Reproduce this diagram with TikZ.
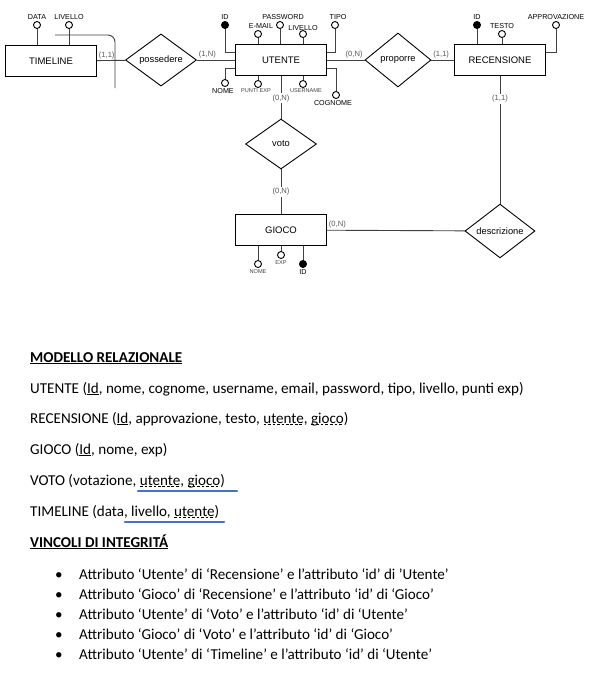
\documentclass[tikz,border=0pt]{standalone}
\usepackage{fontspec}
\setmainfont{Carlito}
\newfontfamily\erfont{Liberation Sans}
\usetikzlibrary{shapes.geometric}
\definecolor{wordblue}{HTML}{4472C4}
\newcommand\ulsolid[1]{\setbox0\hbox{#1}\rlap{\raisebox{-1.9pt}{\rule{\wd0}{0.75pt}}}\box0}
\newcommand\uldash[1]{\setbox0\hbox{#1}\rlap{\raisebox{-1.9pt}{\hbox to\wd0{\xleaders\hbox{\rule{2.6pt}{0.75pt}\hspace{1.6pt}}\hfil}}}\box0}
\begin{document}
\begin{tikzpicture}[x=1pt,y=-1pt,
    entity/.style={draw,line width=0.9pt,fill=white,minimum width=91pt,minimum height=31pt,
      inner sep=0pt,font=\erfont\fontsize{9.5}{10}\selectfont},
    relation/.style={draw,line width=0.9pt,fill=white,diamond,minimum width=71pt,minimum height=52pt,
      inner sep=0pt,font=\erfont\fontsize{9.3}{10}\selectfont},
    attr/.style={circle,draw,line width=0.9pt,fill=white,minimum size=7pt,inner sep=0pt},
    key/.style={attr,fill=black},
    lbl/.style={font=\erfont\fontsize{7.2}{7.5}\selectfont,inner sep=0.5pt,label distance=0.5pt},
    tiny/.style={font=\erfont\fontsize{5.6}{6}\selectfont,inner sep=0.5pt,text=black!75,label distance=0pt},
    card/.style={font=\erfont\fontsize{7.6}{8}\selectfont,text=black!65,inner sep=1.5pt},
    link/.style={draw=black!75,line width=0.9pt},
    txt/.style={anchor=base west,inner sep=0pt,font=\fontsize{15.1}{17}\selectfont},
    blueline/.style={draw=wordblue,line width=2.4pt,line cap=round}]
  \fill[white] (0,0) rectangle (611,673);
  \useasboundingbox (0,0) rectangle (611,673);
  \node[entity] (timeline) at (51,61) {TIMELINE};
  \node[entity] (utente) at (281,60) {UTENTE};
  \node[entity] (recensione) at (500,60) {RECENSIONE};
  \node[entity] (gioco) at (281,230) {GIOCO};
  \node[relation] (possedere) at (161,60) {possedere};
  \node[relation,minimum width=66pt,minimum height=54pt] (proporre) at (398,60) {proporre};
  \node[relation,minimum height=50pt] (voto) at (281,144) {voto};
  \node[relation,minimum width=70pt,minimum height=49pt] (descrizione) at (500,231) {descrizione};
  \node[attr,label={[lbl]above:DATA}] (dataT) at (37,25) {};
  \node[attr,label={[lbl]above:LIVELLO}] (livelloT) at (69,25) {};
  \node[key,label={[lbl]above:ID}] (idU) at (225,25) {};
  \node[attr,label={[lbl,xshift=3pt]above:E-MAIL}] (emailU) at (258,34) {};
  \node[attr,label={[lbl,xshift=3pt]above:PASSWORD}] (passwordU) at (280,25) {};
  \node[attr,label={[lbl,label distance=-1.5pt]above:LIVELLO}] (livelloU) at (303,34) {};
  \node[attr,label={[lbl,xshift=3pt]above:TIPO}] (tipoU) at (335,25) {};
  \node[attr,label={[lbl,xshift=-2pt]below:NOME}] (nomeU) at (225,83) {};
  \node[attr,label={[tiny,xshift=-2pt]below:PUNTI EXP}] (puntiU) at (258,84) {};
  \node[attr,label={[tiny,xshift=3pt]below:USERNAME}] (usernameU) at (303,84) {};
  \node[attr,label={[lbl,xshift=-3pt]below:COGNOME}] (cognomeU) at (336,95) {};
  \node[key,label={[lbl]above:ID}] (idR) at (477,25) {};
  \node[attr,label={[lbl]above:TESTO}] (testoR) at (502,34) {};
  \node[attr,label={[lbl]above:APPROVAZIONE}] (approvR) at (556,25) {};
  \node[attr,label={[tiny,label distance=1pt]below:NOME}] (nomeG) at (258,264) {};
  \node[attr,label={[tiny,label distance=1pt]below:EXP}] (expG) at (281,255) {};
  \node[key,label={[lbl]below:ID}] (idG) at (303,264) {};
  \coordinate (bendA) at (55,35);
  \coordinate (bendB) at (115,88);
  \draw[link,rounded corners=7pt] (bendA) -| (bendB);
  \draw[link] (dataT) -- (dataT |- timeline.north);
  \draw[link] (livelloT) -- (livelloT |- timeline.north);
  \draw[link] (idU) |- ([yshift=8pt]utente.west);
  \draw[link] (nomeU) |- ([yshift=-8pt]utente.west);
  \draw[link] (tipoU) |- ([yshift=8pt]utente.east);
  \draw[link] (cognomeU) |- ([yshift=-8pt]utente.east);
  \draw[link] (emailU) -- (emailU |- utente.north);
  \draw[link] (passwordU) -- (passwordU |- utente.north);
  \draw[link] (livelloU) -- (livelloU |- utente.north);
  \draw[link] (puntiU) -- (puntiU |- utente.south);
  \draw[link] (usernameU) -- (usernameU |- utente.south);
  \draw[link] (idR) -- (idR |- recensione.north);
  \draw[link] (testoR) -- (testoR |- recensione.north);
  \draw[link] (approvR) |- ([yshift=8pt]recensione.east);
  \draw[link] (nomeG) -- (nomeG |- gioco.south);
  \draw[link] (expG) -- (expG |- gioco.south);
  \draw[link] (idG) -- (idG |- gioco.south);
  \draw[link] (timeline) -- node[card,pos=0,above right]{(1,1)} (possedere);
  \draw[link] (possedere) -- node[card,pos=0,above right]{(1,N)} (utente);
  \draw[link] (utente) -- node[card,pos=1,above left]{(0,N)} (proporre);
  \draw[link] (proporre) -- node[card,pos=0,above right]{(1,1)} (recensione);
  \draw[link] (recensione) -- node[card,fill=white,pos=0.18]{(1,1)} (descrizione);
  \draw[link] (utente) -- node[card,fill=white,pos=0.52]{(0,N)} (voto);
  \draw[link] (voto) -- node[card,fill=white]{(0,N)} (gioco);
  \draw[link] (gioco) -- node[card,pos=0,above right]{(0,N)} (descrizione);
  \node[txt] (modello) at (30,362) {\textbf{\ulsolid{MODELLO RELAZIONALE}}};
  \node[txt] (relUtente) at (30,393) {UTENTE (\ulsolid{Id}, nome, cognome, username, email, password, tipo, livello, punti exp)};
  \node[txt] (relRecensione) at (30,423) {RECENSIONE (\ulsolid{Id}, approvazione, testo, \uldash{utente}, \uldash{gioco})};
  \node[txt] (relGioco) at (30,454) {GIOCO (\ulsolid{Id}, nome, exp)};
  \node[txt] (relVoto) at (30,485) {VOTO (votazione, \uldash{utente}, \uldash{gioco})};
  \node[txt] (relTimeline) at (30,516) {TIMELINE (data, livello, \uldash{utente})};
  \node[txt] (vincoli) at (30,547) {\textbf{\ulsolid{VINCOLI DI INTEGRITÁ}}};
  \coordinate (markA) at (138,491);
  \coordinate (markB) at (237,491);
  \coordinate (markC) at (125,522);
  \coordinate (markD) at (224,522);
  \draw[blueline] (markA) -- (markB);
  \draw[blueline] (markC) -- (markD);
  \foreach \t [count=\i] in {{Attributo ‘Utente’ di ‘Recensione’ e l’attributo ‘id’ di ’Utente’},
      {Attributo ‘Gioco’ di ‘Recensione’ e l’attributo ‘id’ di ‘Gioco’},
      {Attributo ‘Utente’ di ‘Voto’ e l’attributo ‘id’ di ‘Utente’},
      {Attributo ‘Gioco’ di ‘Voto’ e l’attributo ‘id’ di ‘Gioco’},
      {Attributo ‘Utente’ di ‘Timeline’ e l’attributo ‘id’ di ‘Utente’}} {
    \node[txt,anchor=base] (dot\i) at (59,559+20*\i) {\textbullet};
    \node[txt] (vinc\i) at (79,559+20*\i) {\t};
  }
\end{tikzpicture}
\end{document}
